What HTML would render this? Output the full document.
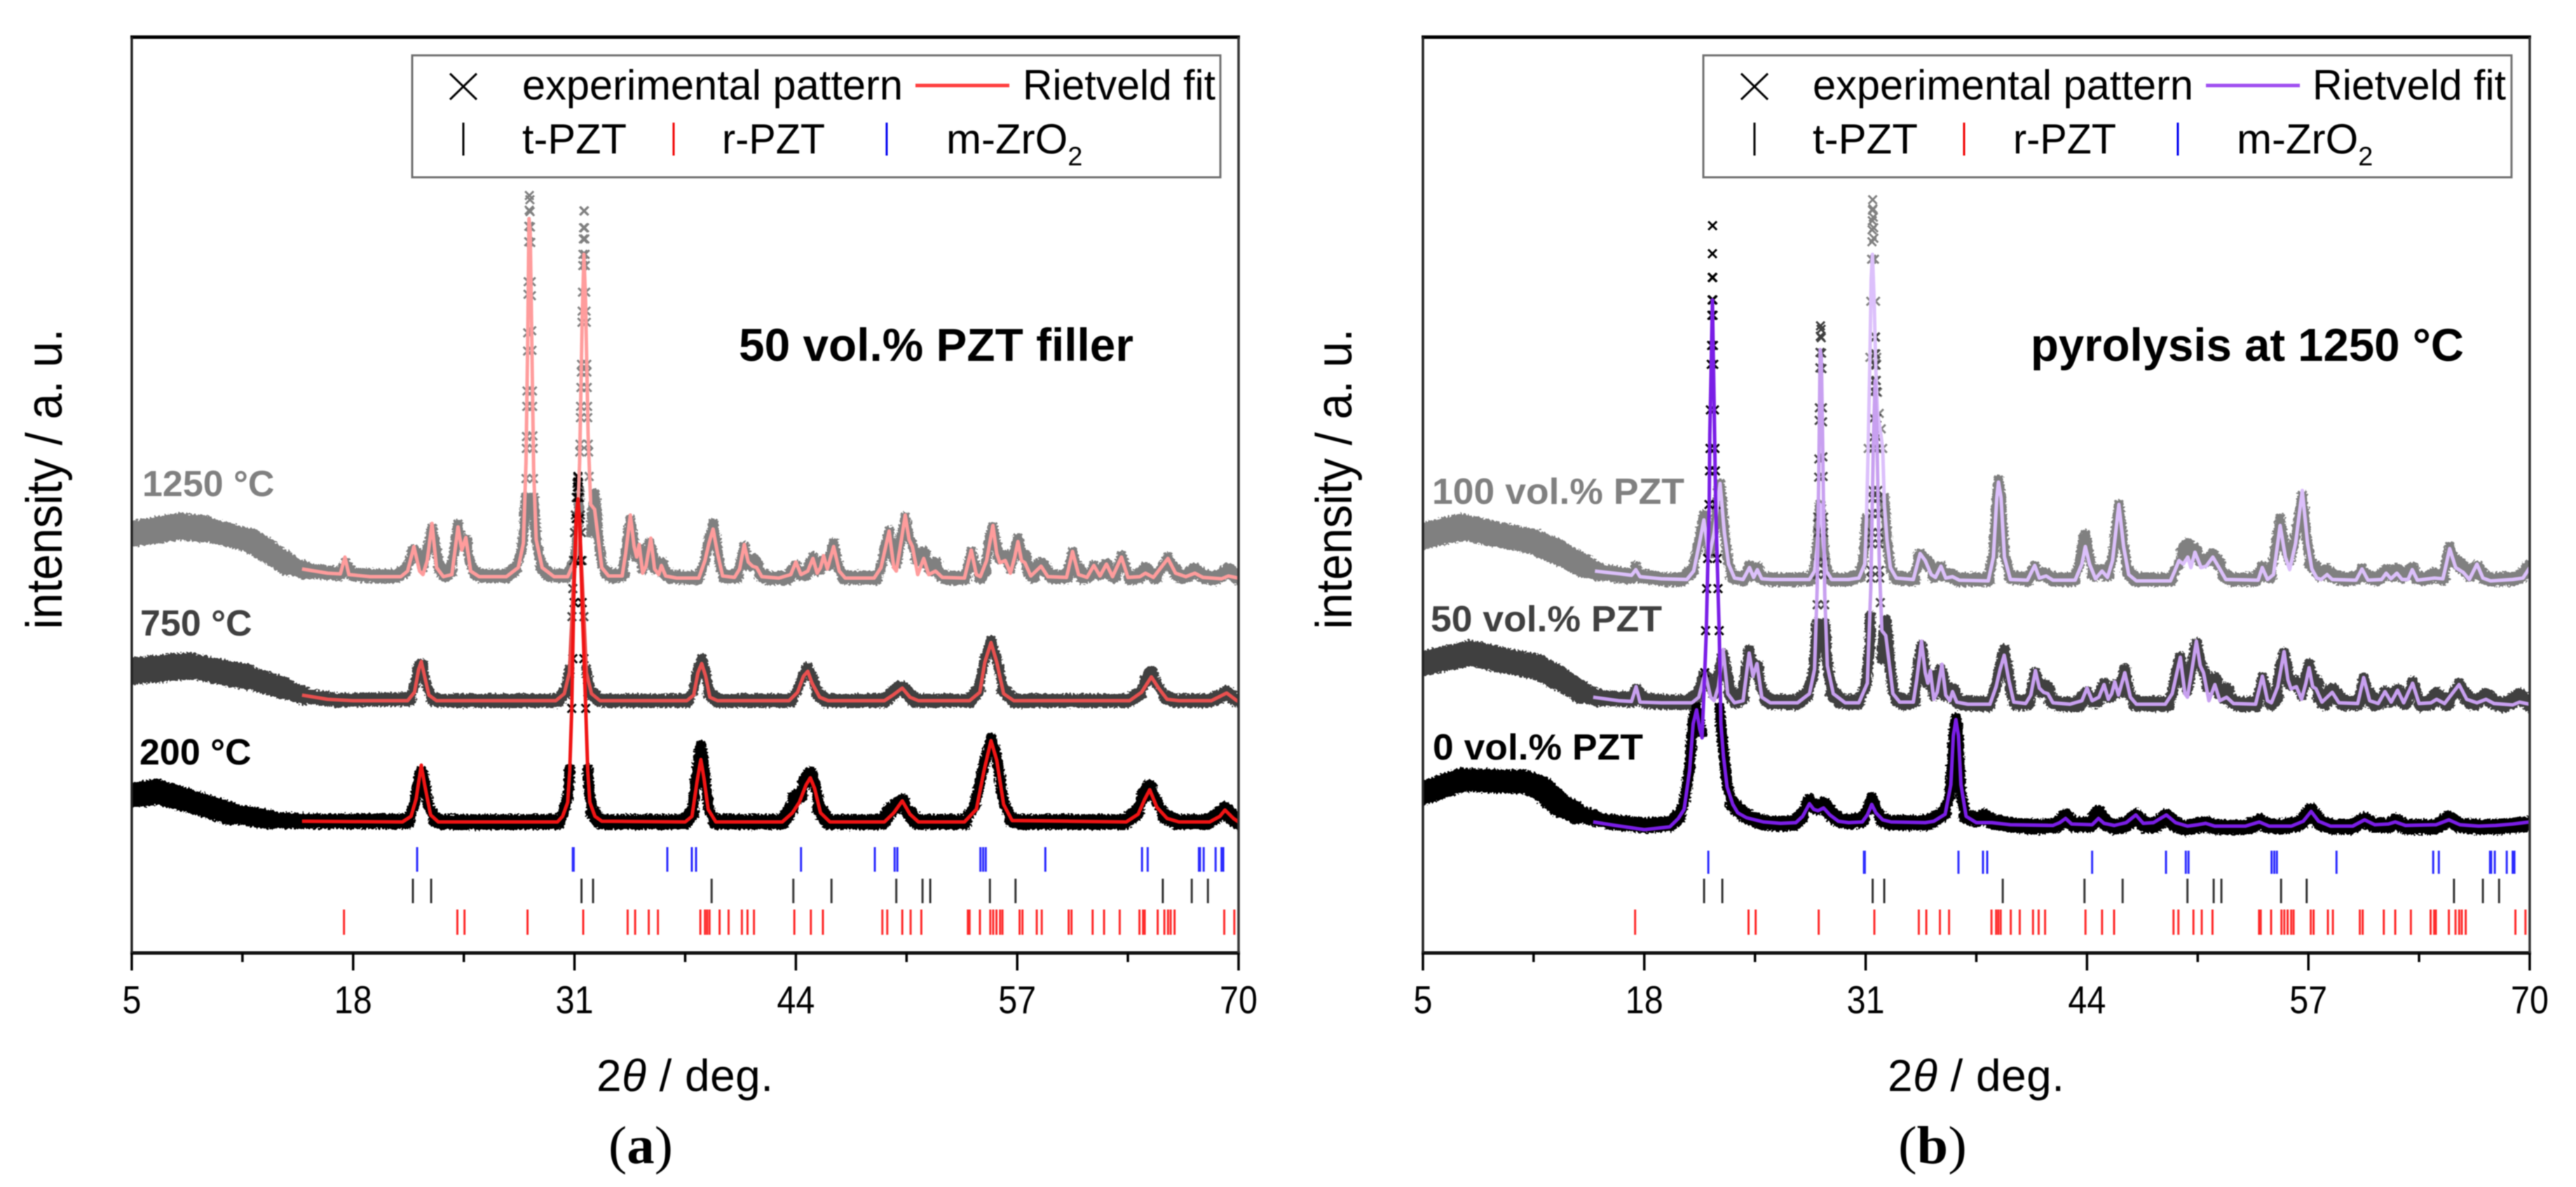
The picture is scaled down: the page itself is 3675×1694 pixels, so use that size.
<!DOCTYPE html>
<html lang="en">
<head>
<meta charset="utf-8">
<title>XRD patterns with Rietveld fits</title>
<style>
html,body{margin:0;padding:0;background:#fff;}
svg{display:block;filter:blur(0.9px);}
text{font-family:"Liberation Sans",sans-serif;fill:#000;}
.leg{font-size:60px;}
.tag{font-size:52px;font-weight:bold;}
.title{font-size:66px;font-weight:bold;}
.tick{font-size:56px;}
.axt{font-size:64px;}
.cap{font-family:"Liberation Serif",serif;font-size:76px;}
</style>
</head>
<body>
<svg id="figure" xmlns="http://www.w3.org/2000/svg" width="3675" height="1694" viewBox="0 0 3675 1694">
  <defs>
    <filter id="noisy" filterUnits="userSpaceOnUse" x="0" y="0" width="3675" height="1694">
      <feTurbulence type="fractalNoise" baseFrequency="0.35" numOctaves="1" seed="4" result="n"/>
      <feDisplacementMap in="SourceGraphic" in2="n" scale="9" xChannelSelector="R" yChannelSelector="G"/>
    </filter>
  </defs>
  <rect width="3675" height="1694" fill="#fff"/>
  <g id="panel-a"></g>
  <g id="panel-b"></g>

  <!-- panel a static text -->
  <text class="axt" transform="translate(88 898) rotate(-90)" textLength="429" lengthAdjust="spacingAndGlyphs" style="font-size:72px">intensity / a. u.</text>
  <text class="axt" x="851" y="1557" textLength="252" lengthAdjust="spacing">2<tspan font-style="italic">θ</tspan> / deg.</text>
  <text class="cap" x="868" y="1660" textLength="92" lengthAdjust="spacingAndGlyphs">(<tspan font-weight="bold">a</tspan>)</text>
  <text class="title" x="1054" y="515" textLength="563" lengthAdjust="spacingAndGlyphs">50 vol.% PZT filler</text>
  <text class="tag" x="203" y="708" style="fill:#808080">1250 °C</text>
  <text class="tag" x="200" y="907" style="fill:#404040">750 °C</text>
  <text class="tag" x="199" y="1091" style="fill:#000">200 °C</text>

  <g>
    <rect x="588" y="79" width="1153" height="174" fill="none" stroke="#707070" stroke-width="3"/>
    <path d="M642 105L680 142M680 105L642 142" stroke="#000" stroke-width="3" fill="none"/>
    <text class="leg" x="745" y="142" textLength="543" lengthAdjust="spacingAndGlyphs">experimental pattern</text>
    <line x1="1306" y1="122" x2="1440" y2="122" stroke="#ff4040" stroke-width="5"/>
    <text class="leg" x="1459" y="142" textLength="275" lengthAdjust="spacingAndGlyphs">Rietveld fit</text>
    <line x1="661" y1="175" x2="661" y2="222" stroke="#000" stroke-width="3"/>
    <text class="leg" x="745" y="219" textLength="149" lengthAdjust="spacingAndGlyphs">t-PZT</text>
    <line x1="961" y1="175" x2="961" y2="222" stroke="#f00000" stroke-width="3"/>
    <text class="leg" x="1030" y="219" textLength="147" lengthAdjust="spacingAndGlyphs">r-PZT</text>
    <line x1="1265" y1="175" x2="1265" y2="222" stroke="#0000f0" stroke-width="3"/>
    <text class="leg" x="1350" y="219">m-ZrO<tspan font-size="38" dy="17">2</tspan></text>
  </g>

  <!-- panel b static text -->
  <text class="axt" transform="translate(1928 898) rotate(-90)" textLength="429" lengthAdjust="spacingAndGlyphs" style="font-size:72px">intensity / a. u.</text>
  <text class="axt" x="2693" y="1557" textLength="252" lengthAdjust="spacing">2<tspan font-style="italic">θ</tspan> / deg.</text>
  <text class="cap" x="2708" y="1660" textLength="98" lengthAdjust="spacingAndGlyphs">(<tspan font-weight="bold">b</tspan>)</text>
  <text class="title" x="2897" y="515" textLength="618" lengthAdjust="spacingAndGlyphs">pyrolysis at 1250 °C</text>
  <text class="tag" x="2043" y="719" textLength="360" lengthAdjust="spacingAndGlyphs" style="fill:#808080">100 vol.% PZT</text>
  <text class="tag" x="2041" y="901" textLength="330" lengthAdjust="spacingAndGlyphs" style="fill:#404040">50 vol.% PZT</text>
  <text class="tag" x="2044" y="1084" textLength="300" lengthAdjust="spacingAndGlyphs" style="fill:#000">0 vol.% PZT</text>

  <g>
    <rect x="2430" y="79" width="1153" height="174" fill="none" stroke="#707070" stroke-width="3"/>
    <path d="M2484 105L2522 142M2522 105L2484 142" stroke="#000" stroke-width="3" fill="none"/>
    <text class="leg" x="2586" y="142" textLength="543" lengthAdjust="spacingAndGlyphs">experimental pattern</text>
    <line x1="3147" y1="122" x2="3281" y2="122" stroke="#a050f0" stroke-width="5"/>
    <text class="leg" x="3299" y="142" textLength="276" lengthAdjust="spacingAndGlyphs">Rietveld fit</text>
    <line x1="2503" y1="175" x2="2503" y2="222" stroke="#000" stroke-width="3"/>
    <text class="leg" x="2586" y="219" textLength="150" lengthAdjust="spacingAndGlyphs">t-PZT</text>
    <line x1="2802" y1="175" x2="2802" y2="222" stroke="#f00000" stroke-width="3"/>
    <text class="leg" x="2872" y="219" textLength="147" lengthAdjust="spacingAndGlyphs">r-PZT</text>
    <line x1="3107" y1="175" x2="3107" y2="222" stroke="#0000f0" stroke-width="3"/>
    <text class="leg" x="3191" y="219">m-ZrO<tspan font-size="38" dy="17">2</tspan></text>
  </g>
</svg>

<script>
// Axis data
const majorTicks = [5, 18, 31, 44, 57, 70];
const minorTicks = [11.5, 24.5, 37.5, 50.5, 63.5];

// Reflection positions (2-theta, deg.)
const mZrO2Refl = [21.76,30.9,30.95,36.45,37.89,38.14,44.3,48.64,49.8,49.96,54.84,55.0,55.15,58.65,64.33,64.66,67.67,67.73,67.95,68.65,69.0,69.1];
const tPztRefl = [21.51,22.58,31.41,32.09,39.05,43.85,46.09,49.9,51.44,51.89,55.4,56.9,65.55,67.25,68.2];
const rPztRefl = [17.46,24.12,24.54,28.24,31.51,34.12,34.56,35.36,35.9,38.39,38.66,38.79,38.93,39.52,40.05,40.83,41.16,41.54,43.91,44.88,45.59,49.08,49.37,50.25,50.74,51.37,54.1,54.2,54.81,55.42,55.59,55.78,55.99,56.13,57.14,57.31,58.15,58.44,60.02,60.19,61.43,62.1,63.02,64.18,64.39,64.49,65.25,65.64,65.86,66.01,66.24,69.16,69.75];

// Panel a, 1250 C: [2-theta, intensity]
const a1250Spread = [38,37,40,37,33,35,36,30,22];
const a1250Exp = [[5,598],[6.35,603],[7.82,609],[9.29,605],[10.97,595],[12.02,588],[13.07,572],[14.12,555],[15.17,546],[16.4,543],[17.2,541],[17.4,550],[17.55,557],[17.7,548],[18,540],[19.4,538],[20.6,538],[21,545],[21.3,560],[21.57,573],[21.85,565],[22.1,550],[22.35,575],[22.63,606],[22.85,580],[23.1,550],[23.4,540],[23.7,544],[23.95,575],[24.16,612],[24.35,585],[24.62,587],[24.85,560],[25.2,542],[25.5,538],[27,538],[27.5,548],[27.9,575],[28.05,610],[28.13,650],[28.15,677],[28.17,720],[28.18,737],[28.2,780],[28.21,802],[28.24,859],[28.25,885],[28.27,940],[28.28,958],[28.31,1015],[28.32,1037],[28.34,1060],[28.35,1081],[28.38,1075],[28.39,1058],[28.41,1036],[28.43,1014],[28.46,958],[28.47,938],[28.49,888],[28.5,860],[28.53,802],[28.54,780],[28.56,738],[28.57,720],[28.59,677],[28.61,650],[28.68,610],[28.85,575],[29.1,550],[29.5,540],[30,538],[30.5,538],[31,560],[31.25,620],[31.28,660],[31.31,715],[31.32,726],[31.35,764],[31.36,780],[31.38,807],[31.4,829],[31.41,840],[31.44,900],[31.45,916],[31.47,943],[31.49,981],[31.5,997],[31.52,1019],[31.53,1035],[31.55,1059],[31.58,1059],[31.59,1035],[31.61,1019],[31.62,997],[31.64,981],[31.66,943],[31.68,916],[31.69,900],[31.72,840],[31.73,829],[31.75,807],[31.77,780],[31.78,764],[31.81,726],[31.83,715],[31.86,680],[31.95,600],[32.05,630],[32.18,655],[32.3,630],[32.42,590],[32.6,555],[32.9,542],[33.3,537],[33.8,540],[34,570],[34.15,600],[34.28,618],[34.45,590],[34.62,565],[34.8,577],[35,548],[35.2,560],[35.4,585],[35.55,575],[35.75,550],[35.95,550],[36.1,555],[36.3,543],[36.6,537],[38.2,535],[38.45,545],[38.66,560],[38.9,590],[39.14,613],[39.35,585],[39.55,550],[39.85,537],[40.5,537],[40.75,555],[40.97,580],[41.15,560],[41.3,555],[41.5,560],[41.7,555],[41.95,540],[42.4,535],[43.5,535],[43.8,545],[44,553],[44.25,542],[44.54,540],[44.8,555],[45,565],[45.2,548],[45.34,548],[45.63,558],[45.9,555],[46.22,585],[46.5,550],[46.85,536],[48.7,535],[49,550],[49.25,580],[49.48,602],[49.72,565],[49.9,555],[50.15,590],[50.42,622],[50.65,595],[50.84,583],[51.16,562],[51.35,565],[51.51,570],[51.75,555],[51.95,548],[52.2,555],[52.5,540],[52.9,535],[53.9,535],[54.1,550],[54.3,573],[54.55,550],[54.83,537],[55.1,545],[55.35,590],[55.57,608],[55.8,580],[55.98,565],[56.3,565],[56.6,548],[56.85,575],[57.04,592],[57.25,570],[57.45,565],[57.7,545],[57.95,537],[58.2,550],[58.4,555],[58.7,545],[59.05,537],[59.9,537],[60.1,555],[60.25,572],[60.5,550],[60.9,536],[61.3,540],[61.5,553],[61.7,545],[61.86,542],[62.05,548],[62.24,553],[62.45,542],[62.7,538],[62.95,550],[63.12,567],[63.35,550],[63.65,535],[64.2,538],[64.53,548],[64.9,540],[65.12,536],[65.55,552],[65.85,565],[66.15,550],[66.5,538],[66.8,537],[67.43,547],[67.9,538],[68.5,534],[69,540],[69.4,547],[70,535]];
const a1250Fit = [[15,548],[16.5,542],[17.25,541],[17.52,565],[17.75,540],[19,537],[20.8,537],[21.2,545],[21.57,580],[21.9,545],[22.1,540],[22.35,560],[22.63,613],[22.9,550],[23.3,537],[23.8,540],[24.16,608],[24.38,575],[24.62,593],[24.9,545],[25.4,537],[27,537],[27.7,550],[28,585],[28.15,700],[28.25,870],[28.33,1048],[28.4,1030],[28.5,860],[28.6,690],[28.75,590],[29.1,550],[29.8,537],[30.6,537],[31.1,565],[31.3,700],[31.45,900],[31.55,997],[31.65,930],[31.8,740],[31.95,640],[32.18,633],[32.35,600],[32.6,550],[33,538],[33.8,538],[34,570],[34.28,625],[34.5,580],[34.65,565],[34.8,583],[35,542],[35.2,552],[35.48,592],[35.7,548],[35.95,540],[36.1,553],[36.35,538],[37,535],[38.3,535],[38.66,560],[38.9,585],[39.14,605],[39.4,570],[39.7,538],[40.4,536],[40.7,548],[40.97,583],[41.2,558],[41.45,552],[41.7,550],[42,537],[43,535],[43.7,540],[44,558],[44.3,540],[44.7,545],[45,563],[45.25,542],[45.45,550],[45.63,567],[45.85,548],[46.22,580],[46.55,545],[46.9,535],[48.6,535],[49,550],[49.48,602],[49.75,550],[49.9,545],[50.2,590],[50.42,625],[50.65,590],[50.84,580],[51.16,540],[51.51,563],[51.8,540],[52.2,545],[52.6,536],[53.9,535],[54.3,575],[54.6,540],[54.83,537],[55.2,560],[55.57,610],[55.8,570],[55.98,557],[56.3,560],[56.6,542],[56.85,565],[57.04,587],[57.25,560],[57.45,557],[57.8,538],[58.4,552],[58.8,537],[59.9,536],[60.25,573],[60.6,540],[61.1,536],[61.5,553],[61.86,538],[62.24,555],[62.6,537],[63.12,565],[63.5,536],[64.2,537],[64.53,542],[65,536],[65.85,563],[66.3,542],[66.9,537],[67.43,542],[67.9,536],[69,534],[69.4,538],[70,535]];

// Panel a, 750 C
const a750Spread = [40,38,36,30,22];
const a750Exp = [[5,402],[8.38,410],[11.76,394],[13.9,378],[15.14,367],[17,361],[21.3,362],[21.65,385],[21.85,405],[22,410],[22.15,400],[22.35,380],[22.7,362],[23.2,360],[30,360],[30.45,372],[30.7,405],[30.85,480],[30.9,520],[30.95,560],[31,600],[31.05,625],[31.1,650],[31.15,670],[31.2,678],[31.25,670],[31.3,650],[31.35,625],[31.4,600],[31.45,560],[31.55,480],[31.7,405],[31.95,372],[32.4,362],[32.8,360],[37.6,360],[38,375],[38.25,405],[38.47,420],[38.7,400],[38.95,370],[39.4,360],[43.7,360],[44.1,375],[44.4,395],[44.7,408],[44.95,395],[45.3,370],[45.8,360],[49.2,360],[49.6,368],[50,378],[50.25,378],[50.6,370],[51,360],[54.2,360],[54.7,375],[55.1,420],[55.46,446],[55.8,420],[56.2,375],[56.8,360],[63.5,360],[64.2,370],[64.6,390],[64.88,400],[65.2,385],[65.7,365],[66.3,360],[68.3,360],[68.8,365],[69.3,372],[69.8,362],[70,360]];
const a750Fit = [[15,368],[16.5,362],[18,360],[21.2,360],[21.6,372],[21.85,405],[22,416],[22.15,400],[22.45,368],[22.9,360],[29.9,360],[30.4,370],[30.7,400],[30.85,480],[31,560],[31.1,610],[31.2,630],[31.3,610],[31.4,560],[31.55,480],[31.7,400],[32,370],[32.5,360],[37.6,360],[38,368],[38.25,400],[38.47,413],[38.7,395],[38.95,365],[39.4,360],[43.6,360],[44.1,372],[44.45,395],[44.7,402],[44.95,385],[45.4,365],[45.9,360],[49.2,360],[49.7,368],[50.25,378],[50.7,365],[51.2,360],[54.2,360],[54.8,372],[55.1,415],[55.46,443],[55.8,415],[56.2,370],[56.8,360],[63.6,360],[64.3,372],[64.88,394],[65.3,378],[65.8,362],[66.5,360],[68.4,360],[69.3,371],[69.9,360],[70,359]];

// Panel a, 200 C
const a200Spread = [38,35,35,32,24,22];
const a200Exp = [[5,225],[6.45,230],[8.38,217],[10.8,199],[13.2,190],[15,188],[21.2,188],[21.6,212],[21.85,250],[22,260],[22.15,250],[22.4,212],[22.85,190],[23.3,187],[30,187],[30.35,200],[30.62,225],[30.72,262],[30.84,349],[30.9,420],[30.98,500],[31.05,560],[31.1,620],[31.15,650],[31.17,665],[31.19,672],[31.2,680],[31.21,672],[31.23,665],[31.25,650],[31.3,620],[31.38,560],[31.45,500],[31.55,420],[31.66,349],[31.78,262],[31.88,225],[32.1,200],[32.5,187],[37.5,187],[37.9,200],[38.15,250],[38.32,282],[38.42,296],[38.52,282],[38.68,245],[38.9,205],[39.3,187],[43.2,187],[43.7,205],[43.95,222],[44.25,225],[44.55,245],[44.85,255],[45.15,240],[45.4,205],[45.9,187],[49.1,187],[49.6,205],[50.25,216],[50.65,200],[51.1,187],[53.9,187],[54.5,210],[55,265],[55.46,306],[55.8,280],[56.2,215],[56.7,190],[57.2,187],[63.3,187],[64,200],[64.45,225],[64.78,237],[65.2,215],[65.7,195],[66.4,187],[68.2,187],[68.8,197],[69.2,205],[69.7,192],[70,186]];
const a200Fit = [[15,188],[20.9,187],[21.4,195],[21.7,220],[22,268],[22.2,240],[22.55,197],[23,187],[30,187],[30.3,195],[30.6,215],[30.72,260],[30.84,349],[30.95,500],[31.1,620],[31.2,648],[31.3,620],[31.45,500],[31.66,349],[31.78,260],[31.9,215],[32.2,195],[32.6,188],[37.5,187],[37.9,195],[38.2,245],[38.42,276],[38.6,250],[38.85,205],[39.3,187],[43.2,187],[43.8,200],[44.2,215],[44.6,240],[44.85,250],[45.1,235],[45.45,200],[46,187],[49.2,187],[49.75,200],[50.25,217],[50.7,198],[51.2,187],[53.9,187],[54.6,205],[55.05,260],[55.46,303],[55.8,275],[56.2,212],[56.7,189],[63.4,187],[64.1,198],[64.5,220],[64.78,233],[65.2,208],[65.8,192],[66.5,187],[68.3,187],[68.9,195],[69.2,204],[69.7,192],[70,187]];

// Panel b, 100 vol.% PZT
const b100Spread = [40,37,37,35,38,30,25,22];
const b100Exp = [[5,595],[7.32,608],[9.2,598],[11.5,587],[13,571],[14.5,552],[15.3,544],[17,538],[17.3,538],[17.5,552],[17.75,538],[19.3,533],[20.2,533],[20.8,545],[21.1,575],[21.5,625],[21.85,570],[22.1,605],[22.45,670],[22.7,605],[22.9,560],[23.2,537],[23.8,533],[24.18,553],[24.4,540],[24.64,548],[24.9,535],[25.5,533],[27.7,533],[28,548],[28.15,585],[28.25,620],[28.32,640],[28.42,620],[28.52,585],[28.7,548],[29,533],[30,533],[30.6,538],[30.85,560],[31.05,620],[31.15,720],[31.25,850],[31.3,930],[31.35,990],[31.37,1015],[31.38,1032],[31.39,1045],[31.4,1060],[31.41,1075],[31.43,1062],[31.45,1050],[31.47,1035],[31.48,1020],[31.52,990],[31.58,930],[31.65,850],[31.7,800],[31.8,770],[31.92,748],[32,720],[32.1,650],[32.25,590],[32.45,550],[32.8,535],[33.8,533],[34,550],[34.2,567],[34.5,560],[34.8,552],[35,538],[35.2,540],[35.42,552],[35.65,540],[36,538],[36.5,533],[38.2,533],[38.5,570],[38.7,650],[38.8,675],[38.95,650],[39.15,570],[39.5,537],[40.5,533],[40.75,545],[40.93,552],[41.2,540],[41.6,540],[42,533],[43.2,533],[43.55,555],[43.75,590],[43.9,597],[44.1,570],[44.4,540],[44.88,545],[45.2,540],[45.5,565],[45.87,640],[46.1,590],[46.4,545],[46.8,533],[48.9,533],[49.15,545],[49.4,555],[49.65,575],[49.92,582],[50.15,570],[50.34,575],[50.7,560],[51,560],[51.39,567],[51.75,555],[52.1,538],[52.5,533],[53.9,533],[54.1,540],[54.29,552],[54.5,540],[54.75,537],[55.05,575],[55.34,620],[55.6,580],[55.9,560],[56.2,590],[56.64,653],[56.9,590],[57.15,555],[57.4,550],[57.7,540],[58.1,545],[58.4,538],[59.16,533],[59.8,535],[60.15,549],[60.45,538],[60.95,533],[61.3,538],[61.57,545],[61.9,540],[62.2,546],[62.5,538],[63.1,548],[63.4,536],[63.9,534],[64.4,540],[64.9,535],[65.05,555],[65.3,580],[65.6,560],[66.1,550],[66.5,540],[66.9,550],[67.3,537],[67.7,533],[69,534],[69.5,538],[70,552]];
const b100Fit = [[15.1,545],[16.6,541],[17.25,539],[17.5,547],[17.75,537],[19,534],[20.5,533],[20.9,545],[21.2,580],[21.5,618],[21.8,565],[22.1,600],[22.45,670],[22.7,600],[22.95,555],[23.3,535],[23.8,533],[24.18,550],[24.42,536],[24.64,547],[24.9,534],[25.5,533],[27.7,533],[28,545],[28.15,580],[28.25,620],[28.32,640],[28.42,620],[28.52,580],[28.7,545],[29,533],[30,533],[30.6,535],[30.95,555],[31.05,620],[31.15,720],[31.25,850],[31.32,960],[31.4,997],[31.5,930],[31.6,830],[31.7,770],[31.85,748],[32,720],[32.1,640],[32.25,590],[32.45,550],[32.8,535],[33.8,533],[34.2,570],[34.5,560],[34.85,540],[35.1,536],[35.42,552],[35.7,535],[36.1,537],[36.5,532],[38.2,531],[38.5,565],[38.7,650],[38.8,672],[38.95,650],[39.15,565],[39.5,533],[40.5,532],[40.93,553],[41.2,535],[41.6,538],[42,532],[43.3,532],[43.7,555],[43.9,580],[44.15,555],[44.5,534],[44.88,545],[45.2,536],[45.5,560],[45.87,640],[46.15,580],[46.45,540],[46.9,531],[48.9,531],[49.15,545],[49.4,560],[49.65,555],[49.92,565],[50.1,550],[50.34,572],[50.7,550],[51,552],[51.39,565],[51.8,548],[52.15,533],[54.05,532],[54.29,550],[54.6,533],[54.95,540],[55.34,610],[55.65,565],[55.9,547],[56.25,585],[56.64,660],[56.95,585],[57.2,548],[57.5,535],[57.75,533],[58.1,540],[58.4,533],[59.8,532],[60.15,548],[60.5,532],[61.3,533],[61.57,542],[61.85,534],[62.2,542],[62.5,533],[62.85,533],[63.1,547],[63.4,532],[64.4,535],[64.9,534],[65.05,550],[65.3,577],[65.65,550],[66.1,543],[66.45,533],[66.9,555],[67.25,535],[67.7,531],[69,533],[69.6,535],[70,550]];

// Panel b, 50 vol.% PZT
const b50Spread = [36,37,37,36,36,30,22];
const b50Exp = [[5,413],[7.74,428],[9.84,417],[11.73,408],[13,392],[14.25,373],[15.3,364],[16.4,363],[17.2,361],[17.4,370],[17.55,377],[17.7,368],[18,360],[19.4,358],[20.6,358],[21,365],[21.3,380],[21.57,393],[21.85,385],[22.1,370],[22.35,395],[22.63,426],[22.85,400],[23.1,370],[23.4,360],[23.7,364],[23.95,395],[24.16,432],[24.35,405],[24.62,407],[24.85,380],[25.2,362],[25.5,358],[27,358],[27.5,368],[27.9,395],[28.05,430],[28.13,470],[28.15,497],[28.17,540],[28.18,557],[28.2,600],[28.21,622],[28.24,679],[28.25,705],[28.27,760],[28.28,778],[28.31,835],[28.32,857],[28.34,880],[28.35,895],[28.38,890],[28.39,878],[28.41,856],[28.43,834],[28.46,778],[28.47,758],[28.49,708],[28.5,680],[28.53,622],[28.54,600],[28.56,558],[28.57,540],[28.59,497],[28.61,470],[28.68,430],[28.85,395],[29.1,370],[29.5,360],[30,358],[30.5,358],[31,380],[31.25,440],[31.28,480],[31.31,535],[31.32,546],[31.35,584],[31.36,600],[31.38,627],[31.4,649],[31.41,660],[31.44,720],[31.45,736],[31.47,763],[31.49,801],[31.5,817],[31.52,839],[31.53,855],[31.55,879],[31.58,879],[31.59,855],[31.61,839],[31.62,817],[31.64,801],[31.66,763],[31.68,736],[31.69,720],[31.72,660],[31.73,649],[31.75,627],[31.77,600],[31.78,584],[31.81,546],[31.83,535],[31.86,500],[31.95,420],[32.05,450],[32.18,475],[32.3,450],[32.42,410],[32.6,375],[32.9,362],[33.3,357],[33.8,360],[34,390],[34.15,420],[34.28,438],[34.45,410],[34.62,385],[34.8,397],[35,368],[35.2,380],[35.4,405],[35.55,395],[35.75,370],[35.95,370],[36.1,375],[36.3,363],[36.6,357],[38.2,355],[38.45,365],[38.66,380],[38.9,410],[39.14,433],[39.35,405],[39.55,370],[39.85,357],[40.5,357],[40.75,375],[40.97,400],[41.15,380],[41.3,375],[41.5,380],[41.7,375],[41.95,360],[42.4,355],[43.5,355],[43.8,365],[44,373],[44.25,362],[44.54,360],[44.8,375],[45,385],[45.2,368],[45.34,368],[45.63,378],[45.9,375],[46.22,405],[46.5,370],[46.85,356],[48.7,355],[49,370],[49.25,400],[49.48,422],[49.72,385],[49.9,375],[50.15,410],[50.42,442],[50.65,415],[50.84,403],[51.16,382],[51.35,385],[51.51,390],[51.75,375],[51.95,368],[52.2,375],[52.5,360],[52.9,355],[53.9,355],[54.1,370],[54.3,393],[54.55,370],[54.83,357],[55.1,365],[55.35,410],[55.57,428],[55.8,400],[55.98,385],[56.3,385],[56.6,368],[56.85,395],[57.04,412],[57.25,390],[57.45,385],[57.7,365],[57.95,357],[58.2,370],[58.4,375],[58.7,365],[59.05,357],[59.9,357],[60.1,375],[60.25,392],[60.5,370],[60.9,356],[61.3,360],[61.5,373],[61.7,365],[61.86,362],[62.05,368],[62.24,373],[62.45,362],[62.7,358],[62.95,370],[63.12,387],[63.35,370],[63.65,355],[64.2,358],[64.53,368],[64.9,360],[65.12,356],[65.55,372],[65.85,385],[66.15,370],[66.5,358],[66.8,357],[67.43,367],[67.9,358],[68.5,354],[69,360],[69.4,367],[70,355]];
const b50Fit = [[15,365],[16.5,360],[17.25,359],[17.52,380],[17.75,358],[19,357],[20.8,357],[21.2,365],[21.57,400],[21.9,365],[22.1,360],[22.35,380],[22.63,433],[22.9,370],[23.3,357],[23.8,360],[24.16,428],[24.38,395],[24.62,413],[24.9,365],[25.4,357],[27,357],[27.7,370],[28,405],[28.15,520],[28.25,690],[28.33,861],[28.4,850],[28.5,680],[28.6,510],[28.75,410],[29.1,370],[29.8,357],[30.6,357],[31.1,385],[31.3,520],[31.45,720],[31.55,817],[31.65,750],[31.8,560],[31.95,460],[32.18,453],[32.35,420],[32.6,370],[33,358],[33.8,358],[34,390],[34.28,445],[34.5,400],[34.65,385],[34.8,403],[35,362],[35.2,372],[35.48,412],[35.7,368],[35.95,360],[36.1,373],[36.35,358],[37,355],[38.3,355],[38.66,380],[38.9,405],[39.14,425],[39.4,390],[39.7,358],[40.4,356],[40.7,368],[40.97,403],[41.2,378],[41.45,372],[41.7,370],[42,357],[43,355],[43.7,360],[44,378],[44.3,360],[44.7,365],[45,383],[45.25,362],[45.45,370],[45.63,387],[45.85,368],[46.22,400],[46.55,365],[46.9,355],[48.6,355],[49,370],[49.48,422],[49.75,370],[49.9,365],[50.2,410],[50.42,445],[50.65,410],[50.84,400],[51.16,360],[51.51,383],[51.8,360],[52.2,365],[52.6,356],[53.9,355],[54.3,395],[54.6,360],[54.83,357],[55.2,380],[55.57,430],[55.8,390],[55.98,377],[56.3,380],[56.6,362],[56.85,385],[57.04,407],[57.25,380],[57.45,377],[57.8,358],[58.4,372],[58.8,357],[59.9,356],[60.25,393],[60.6,360],[61.1,356],[61.5,373],[61.86,358],[62.24,375],[62.6,357],[63.12,385],[63.5,356],[64.2,357],[64.53,362],[65,356],[65.85,383],[66.3,362],[66.9,357],[67.43,362],[67.9,356],[69,354],[69.4,358],[70,355]];

// Panel b, 0 vol.% PZT
const b0Spread = [33,35,33,36,36,28,20];
const b0Exp = [[5,228],[7.3,247],[11,244],[11.94,235],[13,212],[14,200],[15.1,192],[16,187],[18,182],[19.5,184],[20,195],[20.34,215],[20.66,265],[20.87,335],[21.07,350],[21.25,325],[21.39,315],[21.55,400],[21.6,460],[21.66,520],[21.72,563],[21.8,640],[21.83,688],[21.86,720],[21.88,775],[21.93,840],[21.95,867],[21.97,910],[21.98,932],[21.99,964],[22,998],[22.01,1038],[22.02,964],[22.03,932],[22.04,910],[22.06,867],[22.08,840],[22.12,775],[22.15,720],[22.18,688],[22.21,640],[22.28,563],[22.33,520],[22.4,460],[22.42,350],[22.6,300],[22.86,240],[23.2,212],[23.49,205],[24,195],[24.5,190],[25,186],[25.6,185],[26.8,185],[27.2,195],[27.7,220],[27.95,210],[28.2,208],[28.53,212],[28.9,200],[29.4,190],[30,187],[30.8,190],[31.1,205],[31.36,222],[31.6,205],[32,190],[32.5,186],[34.5,186],[35,190],[35.6,200],[35.95,225],[36.12,280],[36.2,320],[36.3,335],[36.4,320],[36.48,280],[36.6,225],[36.9,195],[37.5,190],[37.95,195],[38.4,188],[39.4,183],[40,182],[41,180],[42.2,182],[42.74,195],[43.2,183],[44.2,183],[44.67,200],[45.1,185],[45.6,180],[46.3,183],[46.87,195],[47.4,182],[48,182],[48.66,195],[49.2,183],[49.8,178],[50.5,182],[50.97,184],[51.5,180],[53,179],[53.7,182],[54.12,188],[54.6,182],[55.5,180],[56.5,185],[57.16,203],[57.7,185],[58.5,180],[59.5,180],[60.3,190],[60.9,182],[61.7,182],[62.1,188],[62.7,180],[64.5,180],[65.25,192],[65.9,182],[67,180],[68,180],[69,182],[70,184]];
const b0Fit = [[15,187],[16.3,182],[18,176],[19.5,180],[20,192],[20.34,205],[20.66,260],[20.87,327],[21.07,347],[21.25,320],[21.39,307],[21.55,400],[21.64,457],[21.81,640],[21.85,740],[22,932],[22.13,740],[22.19,640],[22.4,457],[22.5,327],[22.65,280],[22.86,237],[23.2,212],[23.49,200],[24,193],[24.5,190],[25,187],[26,185],[26.9,186],[27.3,195],[27.7,213],[27.95,205],[28.2,203],[28.53,207],[28.9,197],[29.4,188],[30,186],[30.8,187],[31.1,197],[31.36,212],[31.6,200],[32,190],[32.5,187],[34.5,186],[35,188],[35.67,198],[36,240],[36.15,310],[36.3,333],[36.45,310],[36.6,240],[36.9,195],[37.5,186],[38.4,186],[39.5,183],[42,182],[42.4,186],[42.74,192],[43.1,184],[44.3,183],[44.67,192],[45,185],[45.6,182],[46.3,186],[46.87,197],[47.3,185],[47.9,186],[48.66,197],[49.2,186],[49.9,181],[50.5,183],[50.97,185],[51.5,181],[53.3,181],[54.12,187],[54.7,181],[56,181],[56.7,188],[57.16,202],[57.6,188],[58.3,181],[59.6,181],[60.3,190],[60.9,183],[61.7,184],[62.1,187],[62.7,182],[64.5,183],[65.25,190],[65.9,183],[67,181],[68,182],[69,184],[70,187]];

const NS = 'http://www.w3.org/2000/svg';
const PLOT_TOP = 53, PLOT_BOTTOM = 1360, PLOT_W = 1579;

function node(parent, tag, props) {
  const el = document.createElementNS(NS, tag);
  for (const k in props) el.setAttribute(k, props[k]);
  parent.appendChild(el);
  return el;
}
function xScale(left, theta) { return left + (theta - 5) / 65 * PLOT_W; }
function yScale(v) { return PLOT_BOTTOM - v; }

function drawExperimental(group, left, s) {
  const bandGroup = node(group, 'g', { filter: 'url(#noisy)' });
  
  
  for (let i = 0; i + 1 < s.exp.length; i++) {
    // above the dense limit the measured pattern shows only as separate crosses
    if (s.exp[i][1] > s.denseTop || s.exp[i + 1][1] > s.denseTop) continue;
    const x1 = xScale(left, s.exp[i][0]), x2 = xScale(left, s.exp[i + 1][0]);
    const y1 = yScale(s.exp[i][1]), y2 = yScale(s.exp[i + 1][1]);
    const w0 = i < s.spread.length ? s.spread[i] : s.band;
    const w1 = i + 1 < s.spread.length ? s.spread[i + 1] : s.band;
    const steep = Math.abs(y2 - y1) > 1.5 * Math.abs(x2 - x1);
    const seg = node(bandGroup, 'line', {
      x1: x1.toFixed(1), y1: y1.toFixed(1), x2: x2.toFixed(1), y2: y2.toFixed(1),
      stroke: s.color, 'stroke-width': ((w0 + w1) / 2) * (steep ? 0.7 : 1), 'stroke-linecap': 'round'
    });
    
    
  }
  const markers = node(group, 'g', { stroke: s.color, 'stroke-width': 3, fill: 'none' });
  
  
  s.exp.forEach(function (p) {
    const x = xScale(left, p[0]), y = yScale(p[1]), r = 6;
    const m = node(markers, 'path', {
      d: 'M' + (x - r).toFixed(1) + ' ' + (y - r).toFixed(1) + 'L' + (x + r).toFixed(1) + ' ' + (y + r).toFixed(1) +
         'M' + (x + r).toFixed(1) + ' ' + (y - r).toFixed(1) + 'L' + (x - r).toFixed(1) + ' ' + (y + r).toFixed(1)
    });
    
    
  });
}

function drawFit(group, left, s) {
  const pts = s.fit.map(function (p) { return xScale(left, p[0]).toFixed(1) + ',' + yScale(p[1]).toFixed(1); }).join(' ');
  const line = node(group, 'polyline', { points: pts, fill: 'none', stroke: s.fitColor, 'stroke-width': 5, 'stroke-linejoin': 'round' });
  
  
}

function drawReflections(group, left, positions, top, bottom, color, name) {
  const g = node(group, 'g', { stroke: color, 'stroke-width': 3 });
  
  
  positions.forEach(function (t) {
    const x = xScale(left, t).toFixed(1);
    const l = node(g, 'line', { x1: x, x2: x, y1: top, y2: bottom });
    
    
  });
}

function drawAxes(group, left) {
  const right = left + PLOT_W;
  const top = node(group, 'line', { x1: left - 2, x2: right + 2, y1: PLOT_TOP, y2: PLOT_TOP, stroke: '#000', 'stroke-width': 5 });
  
  
  const bottom = node(group, 'line', { x1: left - 2, x2: right + 2, y1: PLOT_BOTTOM, y2: PLOT_BOTTOM, stroke: '#111', 'stroke-width': 5 });
  
  
  const yAxis = node(group, 'line', { x1: left, x2: left, y1: PLOT_TOP, y2: PLOT_BOTTOM, stroke: '#222', 'stroke-width': 3.5 });
  
  
  const rightAxis = node(group, 'line', { x1: right, x2: right, y1: PLOT_TOP, y2: PLOT_BOTTOM, stroke: '#333', 'stroke-width': 3.5 });
  
  
  majorTicks.forEach(function (t) {
    const x = xScale(left, t);
    const tick = node(group, 'line', { x1: x, x2: x, y1: PLOT_BOTTOM, y2: 1385, stroke: '#000', 'stroke-width': 3.5 });
    
    
    const lab = node(group, 'text', { x: x, y: 1446, 'text-anchor': 'middle', 'class': 'tick', textLength: String(t).length * 27, lengthAdjust: 'spacingAndGlyphs' });
    
    
    lab.textContent = t;
  });
  minorTicks.forEach(function (t) {
    const x = xScale(left, t);
    const tick = node(group, 'line', { x1: x, x2: x, y1: PLOT_BOTTOM, y2: 1373, stroke: '#000', 'stroke-width': 3.5 });
    
    
  });
}

function drawPanel(group, left, key, seriesList, blueTop, blueBottom) {
  const cp = node(group, 'clipPath', { id: 'plot-clip-' + key });
  
  
  node(cp, 'rect', { x: left, y: PLOT_TOP, width: PLOT_W, height: PLOT_BOTTOM - PLOT_TOP });
  const area = node(group, 'g', { 'clip-path': 'url(#plot-clip-' + key + ')' });
  
  
  seriesList.forEach(function (s) { drawExperimental(area, left, s); });
  seriesList.forEach(function (s) { drawFit(area, left, s); });
  drawReflections(group, left, mZrO2Refl, blueTop, blueBottom, '#2a2aff', 'm-zro2');
  drawReflections(group, left, tPztRefl, 1254, 1289, '#333333', 't-pzt');
  drawReflections(group, left, rPztRefl, 1298, 1334, '#ff2a2a', 'r-pzt');
  drawAxes(group, left);
}

drawPanel(document.getElementById('panel-a'), 188, 'a', [
  { key: 'a-1250c', exp: a1250Exp, fit: a1250Fit, spread: a1250Spread, band: 20, denseTop: 660, color: '#808080', fitColor: '#ff9c9c' },
  { key: 'a-750c', exp: a750Exp, fit: a750Fit, spread: a750Spread, band: 20, denseTop: 460, color: '#404040', fitColor: '#e8504f' },
  { key: 'a-200c', exp: a200Exp, fit: a200Fit, spread: a200Spread, band: 22, denseTop: 325, color: '#000000', fitColor: '#f01414' }
], 1209, 1244);

drawPanel(document.getElementById('panel-b'), 2030, 'b', [
  { key: 'b-100-vol', exp: b100Exp, fit: b100Fit, spread: b100Spread, band: 20, denseTop: 690, color: '#808080', fitColor: '#dcc0fb' },
  { key: 'b-50-vol', exp: b50Exp, fit: b50Fit, spread: b50Spread, band: 22, denseTop: 480, color: '#404040', fitColor: '#c8a0f0' },
  { key: 'b-0-vol', exp: b0Exp, fit: b0Fit, spread: b0Spread, band: 22, denseTop: 360, color: '#000000', fitColor: '#7a1ee6' }
], 1214, 1247);
</script>
</body>
</html>
